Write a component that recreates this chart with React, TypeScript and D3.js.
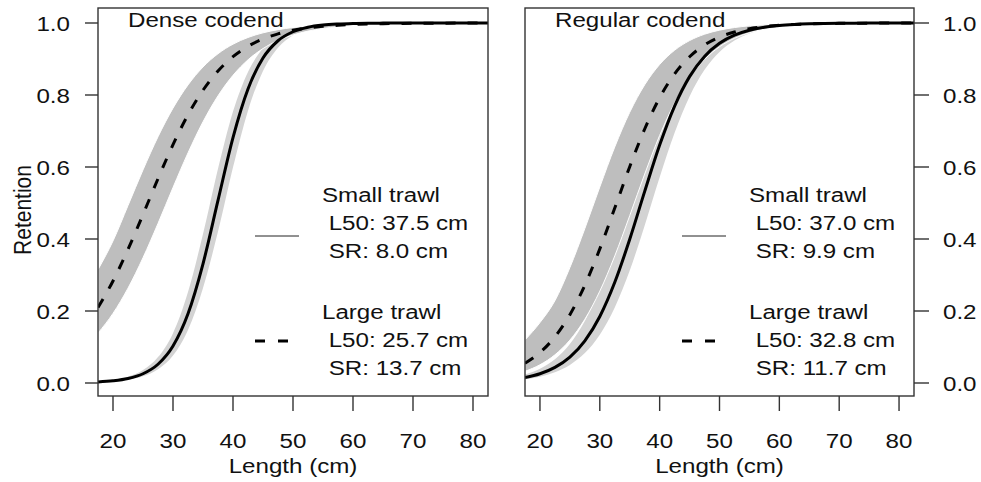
import React from "react";
import * as d3 from "d3";

// Fish length grid (cm)
const lengths = [17.5, 20, 22.5, 25, 27.5, 30, 32.5, 35, 37.5, 40, 42.5, 45, 47.5, 50, 52.5, 55, 57.5, 60, 62.5, 65, 67.5, 70, 72.5, 75, 77.5, 80, 82.5];

// Dense codend – small trawl (solid) with band
const denseSmall = [0.0029, 0.0061, 0.0125, 0.0257, 0.0521, 0.1027, 0.1922, 0.3311, 0.5072, 0.6818, 0.8167, 0.9026, 0.9507, 0.9757, 0.9882, 0.9943, 0.9972, 0.9987, 0.9994, 0.9997, 0.9999, 1, 1, 1, 1, 1, 1];
const denseSmallLo = [0.0021, 0.0044, 0.009, 0.0187, 0.0382, 0.0765, 0.1475, 0.264, 0.4205, 0.5990, 0.7565, 0.8670, 0.9315, 0.9660, 0.9834, 0.9920, 0.9961, 0.9981, 0.9991, 0.9996, 0.9998, 0.9999, 1, 1, 1, 1, 1];
const denseSmallHi = [0.0041, 0.0086, 0.0176, 0.036, 0.0719, 0.1385, 0.2525, 0.4140, 0.5950, 0.7540, 0.8640, 0.9300, 0.9650, 0.9830, 0.9918, 0.9960, 0.9981, 0.9991, 0.9996, 0.9998, 0.9999, 1, 1, 1, 1, 1, 1];
// Dense codend – large trawl (dashed) with band
const denseLarge = [0.2095, 0.2834, 0.371, 0.468, 0.5676, 0.662, 0.745, 0.8133, 0.8667, 0.9065, 0.9354, 0.9557, 0.9699, 0.9796, 0.9862, 0.9907, 0.9938, 0.9958, 0.9972, 0.9981, 0.9987, 0.9992, 0.9994, 0.9996, 0.9997, 0.9998, 0.9999];
const denseLargeLo = [0.1385, 0.1934, 0.2635, 0.348, 0.4432, 0.543, 0.6392, 0.7255, 0.7977, 0.8547, 0.8977, 0.929, 0.9513, 0.9668, 0.9775, 0.9848, 0.9898, 0.9931, 0.9954, 0.9969, 0.9979, 0.9986, 0.9991, 0.9994, 0.9996, 0.9997, 0.9998];
const denseLargeHi = [0.315, 0.3946, 0.493, 0.592, 0.684, 0.7635, 0.828, 0.8778, 0.9147, 0.9412, 0.9598, 0.9727, 0.9815, 0.9875, 0.9916, 0.9944, 0.9962, 0.9975, 0.9983, 0.9989, 0.9992, 0.9995, 0.9997, 0.9998, 0.9998, 0.9999, 0.9999];

// Regular codend – small trawl (solid) with band
const regularSmall = [0.0152, 0.0257, 0.0433, 0.0718, 0.117, 0.1848, 0.2797, 0.3992, 0.5322, 0.6608, 0.7692, 0.851, 0.9071, 0.9436, 0.9663, 0.98, 0.9882, 0.9931, 0.9959, 0.9976, 0.9986, 0.9992, 0.9995, 0.9997, 0.9998, 0.9999, 0.9999];
const regularSmallLo = [0.0105, 0.0177, 0.03, 0.0503, 0.0831, 0.1342, 0.2098, 0.3124, 0.4376, 0.5713, 0.695, 0.796, 0.8698, 0.9196, 0.9514, 0.9711, 0.9829, 0.9899, 0.9941, 0.9965, 0.998, 0.9988, 0.9993, 0.9996, 0.9998, 0.9999, 0.9999];
const regularSmallHi = [0.0236, 0.0398, 0.0662, 0.1082, 0.1721, 0.2623, 0.3785, 0.5102, 0.6409, 0.7534, 0.8394, 0.8995, 0.9387, 0.9633, 0.9782, 0.9872, 0.9925, 0.9956, 0.9974, 0.9985, 0.9991, 0.9995, 0.9997, 0.9998, 0.9999, 0.9999, 1];
// Regular codend – large trawl (dashed) with band
const regularLarge = [0.0549, 0.0846, 0.1283, 0.1899, 0.2717, 0.3726, 0.486, 0.6008, 0.7056, 0.7923, 0.8587, 0.9063, 0.939, 0.9608, 0.975, 0.9842, 0.99, 0.9937, 0.996, 0.9975, 0.9984, 0.999, 0.9994, 0.9996, 0.9998, 0.9998, 0.9999];
const regularLargeLo = [0.0324, 0.0506, 0.0783, 0.1191, 0.1771, 0.2552, 0.353, 0.4648, 0.5803, 0.6876, 0.778, 0.848, 0.8988, 0.934, 0.9575, 0.9729, 0.9828, 0.9891, 0.9931, 0.9957, 0.9973, 0.9983, 0.9989, 0.9993, 0.9996, 0.9997, 0.9998];
const regularLargeHi = [0.1196, 0.1678, 0.2286, 0.3206, 0.429, 0.5446, 0.6557, 0.7519, 0.8283, 0.8848, 0.9244, 0.9511, 0.9688, 0.9801, 0.9874, 0.9921, 0.995, 0.9969, 0.998, 0.9988, 0.9992, 0.9995, 0.9997, 0.9998, 0.9999, 0.9999, 0.9999];

const xTicks = [20, 30, 40, 50, 60, 70, 80];
const yTicks = [0, 0.2, 0.4, 0.6, 0.8, 1.0];

const panelTitles = ["Dense codend", "Regular codend"];
const smallLegend = [
  ["Small trawl", " L50: 37.5 cm", " SR: 8.0 cm"],
  ["Small trawl", " L50: 37.0 cm", " SR: 9.9 cm"],
];
const largeLegend = [
  ["Large trawl", " L50: 25.7 cm", " SR: 13.7 cm"],
  ["Large trawl", " L50: 32.8 cm", " SR: 11.7 cm"],
];

const W = 981;
const H = 482;
const FONT = "'Liberation Sans', Arial, Helvetica, sans-serif";
const FS = 21;
const SX = 1.15;
const TXT = "#111";
const BOX_TOP = 8;
const BOX_BOTTOM = 396;
const DASH = "10,12";

const panels = [
  { x0: 98, x1: 488, side: "left", small: denseSmall, smallLo: denseSmallLo, smallHi: denseSmallHi, large: denseLarge, largeLo: denseLargeLo, largeHi: denseLargeHi },
  { x0: 525, x1: 914, side: "right", small: regularSmall, smallLo: regularSmallLo, smallHi: regularSmallHi, large: regularLarge, largeLo: regularLargeLo, largeHi: regularLargeHi },
];

function T({ x, y, anchor = "start", children }: any) {
  return (
    <text
      transform={`translate(${x},${y}) scale(${SX},1)`}
      textAnchor={anchor}
      fontFamily={FONT}
      fontSize={FS}
      fill={TXT}
      style={{ whiteSpace: "pre" }}
    >
      {children}
    </text>
  );
}

function Panel({ p, i }: any) {
  const x = d3.scaleLinear().domain([17.5, 82.5]).range([p.x0, p.x1]);
  const y = d3.scaleLinear().domain([0, 1]).range([383, 23]);
  const idx = d3.range(lengths.length);
  const line = (arr: number[]) =>
    d3.line<number>().x((k) => x(lengths[k])).y((k) => y(arr[k])).curve(d3.curveMonotoneX)(idx) || "";
  const area = (lo: number[], hi: number[]) =>
    d3.area<number>().x((k) => x(lengths[k])).y0((k) => y(lo[k])).y1((k) => y(hi[k])).curve(d3.curveMonotoneX)(idx) || "";
  const legX = p.x0 + 224;
  const lineX0 = p.x0 + 157;
  const lineX1 = p.x0 + 201;
  const clipId = `clip${i}`;
  return (
    <g>
      <clipPath id={clipId}>
        <rect x={p.x0} y={BOX_TOP} width={p.x1 - p.x0} height={BOX_BOTTOM - BOX_TOP} />
      </clipPath>
      <g clipPath={`url(#${clipId})`}>
        <path d={area(p.smallLo, p.smallHi)} fill="#d3d3d3" stroke="none" />
        <path d={area(p.largeLo, p.largeHi)} fill="#bebebe" stroke="#fff" strokeWidth={1} />
        <path d={line(p.small)} fill="none" stroke="#000" strokeWidth={3} />
        <path d={line(p.large)} fill="none" stroke="#000" strokeWidth={3} strokeDasharray={DASH} />
      </g>
      <rect x={p.x0} y={BOX_TOP} width={p.x1 - p.x0} height={BOX_BOTTOM - BOX_TOP} fill="none" stroke="#333" strokeWidth={1.4} />
      {xTicks.map((t) => (
        <g key={t}>
          <line x1={x(t)} x2={x(t)} y1={BOX_BOTTOM} y2={411} stroke="#333" strokeWidth={1.4} />
          <T x={x(t)} y={448} anchor="middle">{String(t)}</T>
        </g>
      ))}
      <T x={(p.x0 + p.x1) / 2} y={473} anchor="middle">Length (cm)</T>
      {yTicks.map((t) => (
        <g key={t}>
          {p.side === "left" ? (
            <>
              <line x1={p.x0 - 13} x2={p.x0} y1={y(t)} y2={y(t)} stroke="#333" strokeWidth={1.4} />
              <T x={70} y={y(t) + 8} anchor="end">{t.toFixed(1)}</T>
            </>
          ) : (
            <>
              <line x1={p.x1} x2={p.x1 + 15} y1={y(t)} y2={y(t)} stroke="#333" strokeWidth={1.4} />
              <T x={943} y={y(t) + 8} anchor="start">{t.toFixed(1)}</T>
            </>
          )}
        </g>
      ))}
      <T x={p.x0 + 30} y={27}>{panelTitles[i]}</T>
      <line x1={lineX0} x2={lineX1} y1={236} y2={236} stroke="#222" strokeWidth={1} />
      <line x1={lineX0} x2={lineX1} y1={341} y2={341} stroke="#000" strokeWidth={3} strokeDasharray="10,13" />
      {smallLegend[i].map((s, j) => (
        <T key={"s" + j} x={legX} y={201.5 + j * 28.4}>{s}</T>
      ))}
      {largeLegend[i].map((s, j) => (
        <T key={"l" + j} x={legX} y={318.5 + j * 28.4}>{s}</T>
      ))}
    </g>
  );
}

export default function App() {
  return (
    <svg width={W} height={H} style={{ position: "absolute", left: 0, top: 0, background: "#fff" }}>
      <rect x={0} y={0} width={W} height={H} fill="#fff" />
      {panels.map((p, i) => (
        <Panel key={i} p={p} i={i} />
      ))}
      <g transform={`translate(31,210) scale(${SX},1) rotate(-90)`}>
        <text x={0} y={0} textAnchor="middle" fontFamily={FONT} fontSize={FS} fill={TXT}>
          Retention
        </text>
      </g>
    </svg>
  );
}
